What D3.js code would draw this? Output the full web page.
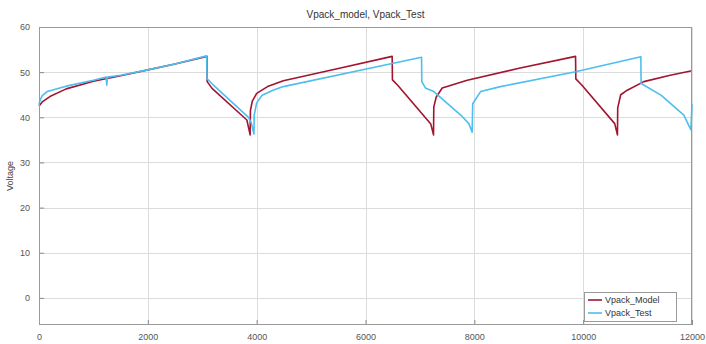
<!DOCTYPE html>
<html>
<head>
<meta charset="utf-8">
<script src="https://cdn.jsdelivr.net/npm/d3@7"></script>
<style>
  html, body { margin: 0; padding: 0; background: #fff; }
  svg { display: block; font-family: "Liberation Sans", Arial, sans-serif; }
</style>
</head>
<body>
<svg id="chart" width="706" height="344"></svg>
<script>
// Pack voltage: simulated model vs. measured test, over time
const chartTitle = "Vpack_model, Vpack_Test";
const yLabel = "Voltage";
const seriesNames = ["Vpack_Model", "Vpack_Test"];

const modelTime = [0, 60, 200, 500, 1000, 1500, 2000, 2500, 3085,
  3090, 3180, 3820, 3880, 3885, 3920, 4000, 4200, 4490, 5500, 6490,
  6495, 6600, 7200, 7250, 7255, 7300, 7410, 7870, 8800, 9860,
  9865, 9970, 10580, 10630, 10635, 10690, 10810, 11115, 11600, 12000];
const modelVoltage = [42.5, 43.4, 44.6, 46.3, 48.0, 49.2, 50.5, 51.8, 53.5,
  47.9, 46.4, 39.4, 36.1, 41.5, 43.6, 45.3, 46.8, 48.1, 50.8, 53.5,
  48.3, 47.0, 38.5, 36.1, 42.3, 44.5, 46.5, 48.2, 50.8, 53.5,
  48.5, 47.2, 38.6, 36.1, 42.1, 45.0, 46.0, 47.9, 49.3, 50.3];

const testTime = [0, 20, 60, 150, 500, 1000, 1200, 1235, 1245, 1260, 1500, 2000, 2500, 3080,
  3090, 3200, 3850, 3900, 3950, 3955, 4000, 4100, 4300, 4490, 6490, 7030,
  7035, 7100, 7255, 7750, 7900, 7960, 7970, 8115, 8480, 9860, 11060,
  11065, 11430, 11850, 11980, 12000];
const testVoltage = [42.8, 43.8, 44.8, 45.7, 46.9, 48.2, 48.8, 48.9, 47.1, 48.9, 49.3, 50.5, 51.8, 53.6,
  48.5, 47.2, 40.0, 38.8, 36.3, 40.5, 43.2, 44.9, 46.0, 46.8, 51.9, 53.3,
  47.9, 46.5, 45.7, 40.5, 38.6, 36.7, 43.0, 45.7, 46.8, 50.1, 53.4,
  47.5, 44.9, 40.5, 37.2, 43.0];

const xTicks = [0, 2000, 4000, 6000, 8000, 10000, 12000];
const yTicks = [0, 10, 20, 30, 40, 50, 60];
const xDomain = [0, 12000];
const yDomain = [-6, 60];

const colors = ["#A2142F", "#4DBEEE"];

const svg = d3.select("#chart");
const plot = { left: 39, right: 692, top: 27, bottom: 325 };

const x = d3.scaleLinear().domain(xDomain).range([plot.left, plot.right]);
const y = d3.scaleLinear().domain(yDomain).range([plot.bottom, plot.top]);

// grid
const grid = svg.append("g").attr("stroke", "#dcdcdc").attr("stroke-width", 1);
grid.selectAll("line.gx").data(xTicks).join("line").attr("class", "gx")
  .attr("x1", d => Math.round(x(d)) + 0.5).attr("x2", d => Math.round(x(d)) + 0.5)
  .attr("y1", plot.top).attr("y2", plot.bottom);
grid.selectAll("line.gy").data(yTicks).join("line").attr("class", "gy")
  .attr("y1", d => Math.round(y(d)) + 0.5).attr("y2", d => Math.round(y(d)) + 0.5)
  .attr("x1", plot.left).attr("x2", plot.right);

// axes with inward ticks
const xAxis = d3.axisBottom(x).tickValues(xTicks).tickSize(-5).tickPadding(9).tickFormat(d3.format("d"));
const yAxis = d3.axisLeft(y).tickValues(yTicks).tickSize(-5).tickPadding(9).tickFormat(d3.format("d"));
const gx = svg.append("g").attr("transform", `translate(0,${plot.bottom})`).call(xAxis);
const gy = svg.append("g").attr("transform", `translate(${plot.left},0)`).call(yAxis);
[gx, gy].forEach(g => {
  g.select(".domain").remove();
  g.selectAll(".tick line").attr("stroke", "#8a8a8a");
  g.selectAll(".tick text").attr("fill", "#555").attr("font-size", 9);
});

// series lines
const line = d3.line().x(d => x(d[0])).y(d => y(d[1]));
const series = [
  d3.zip(modelTime, modelVoltage),
  d3.zip(testTime, testVoltage)
];
svg.append("g").selectAll("path").data(series).join("path")
  .attr("d", line)
  .attr("fill", "none")
  .attr("stroke", (d, i) => colors[i])
  .attr("stroke-width", 1.6)
  .attr("stroke-linejoin", "round");

// box around the axes
svg.append("rect").attr("x", plot.left + 0.5).attr("y", plot.top + 0.5)
  .attr("width", plot.right - plot.left - 1).attr("height", plot.bottom - plot.top - 1)
  .attr("fill", "none").attr("stroke", "#9a9a9a").attr("stroke-width", 1);

// title and y label
svg.append("text").attr("x", (plot.left + plot.right) / 2).attr("y", 18)
  .attr("text-anchor", "middle").attr("font-size", 10).attr("fill", "#333")
  .text(chartTitle);
svg.append("text")
  .attr("transform", `translate(13,${(plot.top + plot.bottom) / 2}) rotate(-90)`)
  .attr("text-anchor", "middle").attr("font-size", 9).attr("fill", "#444")
  .text(yLabel);

// legend
const lg = svg.append("g").attr("transform", "translate(584,292)");
lg.append("rect").attr("x", 0.5).attr("y", 0.5).attr("width", 92).attr("height", 29)
  .attr("fill", "#fff").attr("stroke", "#9a9a9a");
seriesNames.forEach((name, i) => {
  const yy = 8 + i * 13;
  lg.append("line").attr("x1", 4).attr("x2", 18).attr("y1", yy).attr("y2", yy)
    .attr("stroke", colors[i]).attr("stroke-width", 1.6);
  lg.append("text").attr("x", 21).attr("y", yy + 3).attr("font-size", 9)
    .attr("fill", "#333").text(name);
});
</script>
</body>
</html>
